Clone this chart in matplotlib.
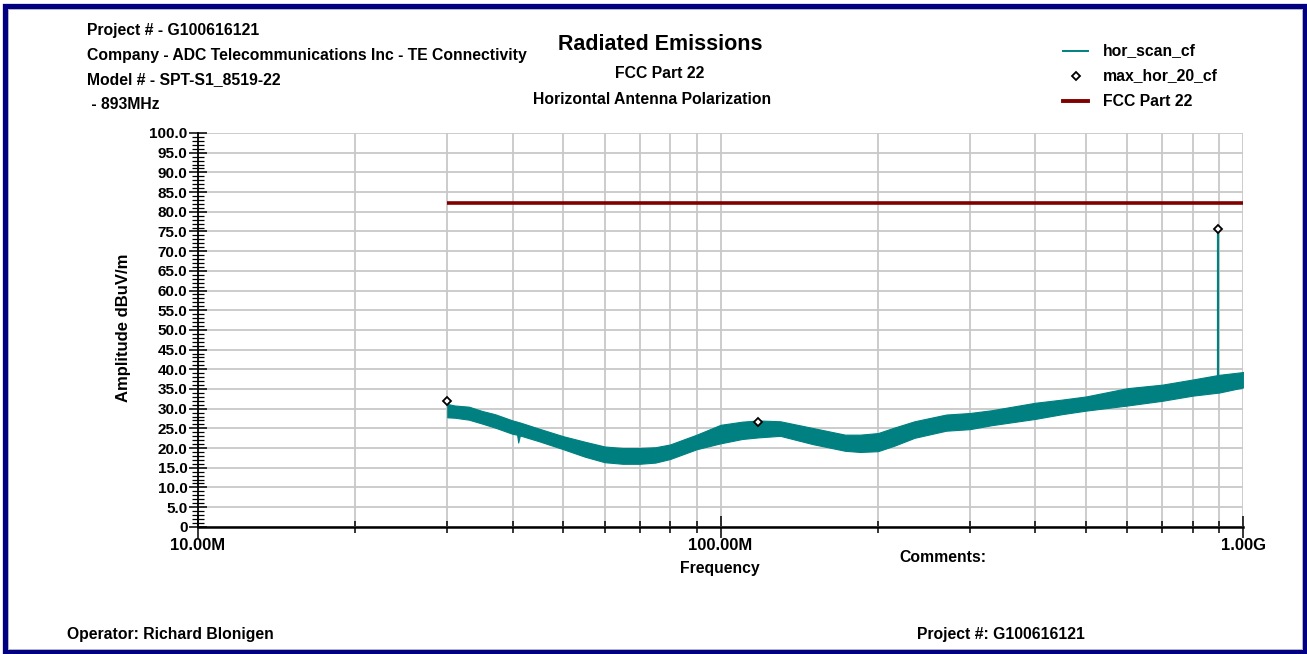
import matplotlib
matplotlib.use("Agg")
import matplotlib.pyplot as plt
from matplotlib.lines import Line2D
from matplotlib.patches import Rectangle
from matplotlib.ticker import FixedLocator, FixedFormatter, MultipleLocator

plt.rcParams['font.family'] = ['Liberation Sans', 'DejaVu Sans']
plt.rcParams['font.weight'] = 'bold'

# ---- data (frequency in MHz, amplitude in dBuV/m) ----
scan_freq = [30, 31, 33, 35, 37, 40, 40.8, 41, 41.3, 45, 50, 55, 60, 65, 70, 75, 80,
             90, 100, 110, 118, 130, 150, 173, 185, 200, 215, 235, 270, 300, 330,
             400, 450, 500, 600, 700, 800, 900, 1000]
scan_upper = [31.2, 30.8, 30.5, 29.4, 28.6, 27.0, 26.7, 26.6, 26.5, 24.9, 23.0, 21.6,
              20.4, 20.0, 20.0, 20.2, 20.9, 23.4, 25.9, 26.7, 27.0, 26.8, 25.1, 23.4,
              23.4, 23.8, 25.2, 26.8, 28.5, 28.9, 29.6, 31.5, 32.3, 33.1, 35.2, 36.1,
              37.4, 38.6, 39.3]
scan_lower = [27.8, 27.7, 27.2, 26.2, 25.2, 23.6, 23.4, 21.4, 23.2, 21.7, 19.7, 17.8,
              16.4, 16.0, 16.0, 16.3, 17.2, 19.7, 21.2, 22.3, 22.7, 23.1, 21.0, 19.3,
              19.0, 19.2, 20.6, 22.6, 24.4, 24.8, 25.8, 27.4, 28.6, 29.5, 30.8, 32.0,
              33.3, 34.1, 35.4]
spike_freq = 893
spike_range = [36.0, 75.7]
max_freq = [30, 118, 893]
max_level = [32.0, 26.7, 75.7]
limit_freq = [30, 1000]
limit_level = [82.2, 82.2]

xtick_vals = [10, 100, 1000]
xtick_labels = ["10.00M", "100.00M", "1.00G"]
xminor_vals = [20, 30, 40, 50, 60, 70, 80, 90, 200, 300, 400, 500, 600, 700, 800, 900]

TEAL = "#008080"
DRED = "#800000"
NAVY = "#000080"
W, H = 1307, 654
FS = 11.3


def px(x, y):
    return x / W, 1 - y / H


fig = plt.figure(figsize=(W / 100, H / 100), dpi=100)
x0, y0 = px(197.9, 526.8)
x1, y1 = px(1243.3, 133)
ax = fig.add_axes([x0, y0, x1 - x0, y1 - y0])

# trace band
ax.fill_between(scan_freq, scan_lower, scan_upper, color=TEAL, lw=0.8, edgecolor=TEAL, zorder=3)
ax.plot([spike_freq, spike_freq], spike_range, color=TEAL, lw=1.6, zorder=3)
ax.plot(limit_freq, limit_level, color=DRED, lw=2.6, zorder=4, solid_capstyle='butt')
ax.plot(max_freq, max_level, ls='none', marker='D', ms=4.5, mfc='white', mec='black', mew=1.3, zorder=5)

ax.set_xscale('log')
ax.set_xlim(10, 1000)
ax.set_ylim(0, 100)
ax.xaxis.set_major_locator(FixedLocator(xtick_vals))
ax.xaxis.set_major_formatter(FixedFormatter(xtick_labels))
ax.xaxis.set_minor_locator(FixedLocator(xminor_vals))
ax.xaxis.set_minor_formatter(FixedFormatter([""] * len(xminor_vals)))
ax.yaxis.set_major_locator(MultipleLocator(5))
ax.yaxis.set_minor_locator(MultipleLocator(1))
ax.yaxis.set_major_formatter(plt.FuncFormatter(lambda v, p: "0" if v == 0 else f"{v:.1f}"))

ax.grid(True, which='both', axis='x', color='#c8c8c8', lw=1.3, zorder=0)
ax.grid(True, which='major', axis='y', color='#c8c8c8', lw=1.3, zorder=0)
ax.set_axisbelow(True)

for s in ['top', 'right']:
    ax.spines[s].set_visible(False)
ax.spines['bottom'].set_linewidth(1.8)
ax.spines['left'].set_linewidth(1.3)

ax.tick_params(axis='y', which='major', direction='inout', length=13, width=1.1,
               labelsize=11, pad=1)
ax.tick_params(axis='y', which='minor', direction='inout', length=8, width=0.9)
ax.tick_params(axis='x', which='major', direction='inout', length=16, width=1.1,
               labelsize=12, pad=0)
ax.tick_params(axis='x', which='minor', direction='inout', length=8, width=1.1)
for lab in ax.get_xticklabels() + ax.get_yticklabels():
    lab.set_fontweight('bold')

# axis labels
fig.text(*px(720, 569), "Frequency", ha='center', va='center', fontsize=FS, fontweight='bold')
fig.text(*px(124, 328), "Amplitude dBuV/m", ha='center', va='center', rotation=90,
         fontsize=12, fontweight='bold')
fig.text(*px(943, 557), "Comments:", ha='center', va='center', fontsize=FS, fontweight='bold')

# titles
fig.text(*px(660, 44), "Radiated Emissions", ha='center', va='center', fontsize=15.5, fontweight='bold')
fig.text(*px(660, 74), "FCC Part 22", ha='center', va='center', fontsize=FS, fontweight='bold')
fig.text(*px(652, 100), "Horizontal Antenna Polarization", ha='center', va='center',
         fontsize=FS, fontweight='bold')

# header block
hdr = ["Project # - G100616121",
       "Company - ADC Telecommunications Inc - TE Connectivity",
       "Model # - SPT-S1_8519-22",
       " - 893MHz"]
for i, t in enumerate(hdr):
    fig.text(*px(87, 31 + 24.5 * i), t, ha='left', va='center', fontsize=FS, fontweight='bold')

# footer
fig.text(*px(67, 635), "Operator: Richard Blonigen", ha='left', va='center', fontsize=FS, fontweight='bold')
fig.text(*px(917, 635), "Project #: G100616121", ha='left', va='center', fontsize=FS, fontweight='bold')

# legend
leg_items = [("hor_scan_cf", 'line', TEAL, 1.4),
             ("max_hor_20_cf", 'marker', 'black', 0),
             ("FCC Part 22", 'line', DRED, 2.8)]
for i, (name, kind, col, lw) in enumerate(leg_items):
    yy = 51 + 25 * i
    if kind == 'line':
        fig.add_artist(Line2D([1063 / W, 1088 / W], [1 - yy / H] * 2, color=col, lw=lw,
                              transform=fig.transFigure))
    else:
        fig.add_artist(Line2D([1076 / W], [1 - yy / H], ls='none', marker='D', ms=4.5,
                              mfc='white', mec='black', mew=1.3, transform=fig.transFigure))
    fig.text(*px(1103, yy), name, ha='left', va='center', fontsize=FS, fontweight='bold')

# frame
fig.add_artist(Rectangle((4.5 / W, 1 - 651.5 / H), 1300 / W, 646 / H, fill=False,
                         edgecolor=NAVY, lw=3.8, transform=fig.transFigure))
fig.add_artist(Rectangle((7.5 / W, 1 - 648.5 / H), 1294 / W, 640 / H, fill=False,
                         edgecolor='#b0b0c8', lw=0.7, transform=fig.transFigure))

fig.savefig("out.png", dpi=100)
